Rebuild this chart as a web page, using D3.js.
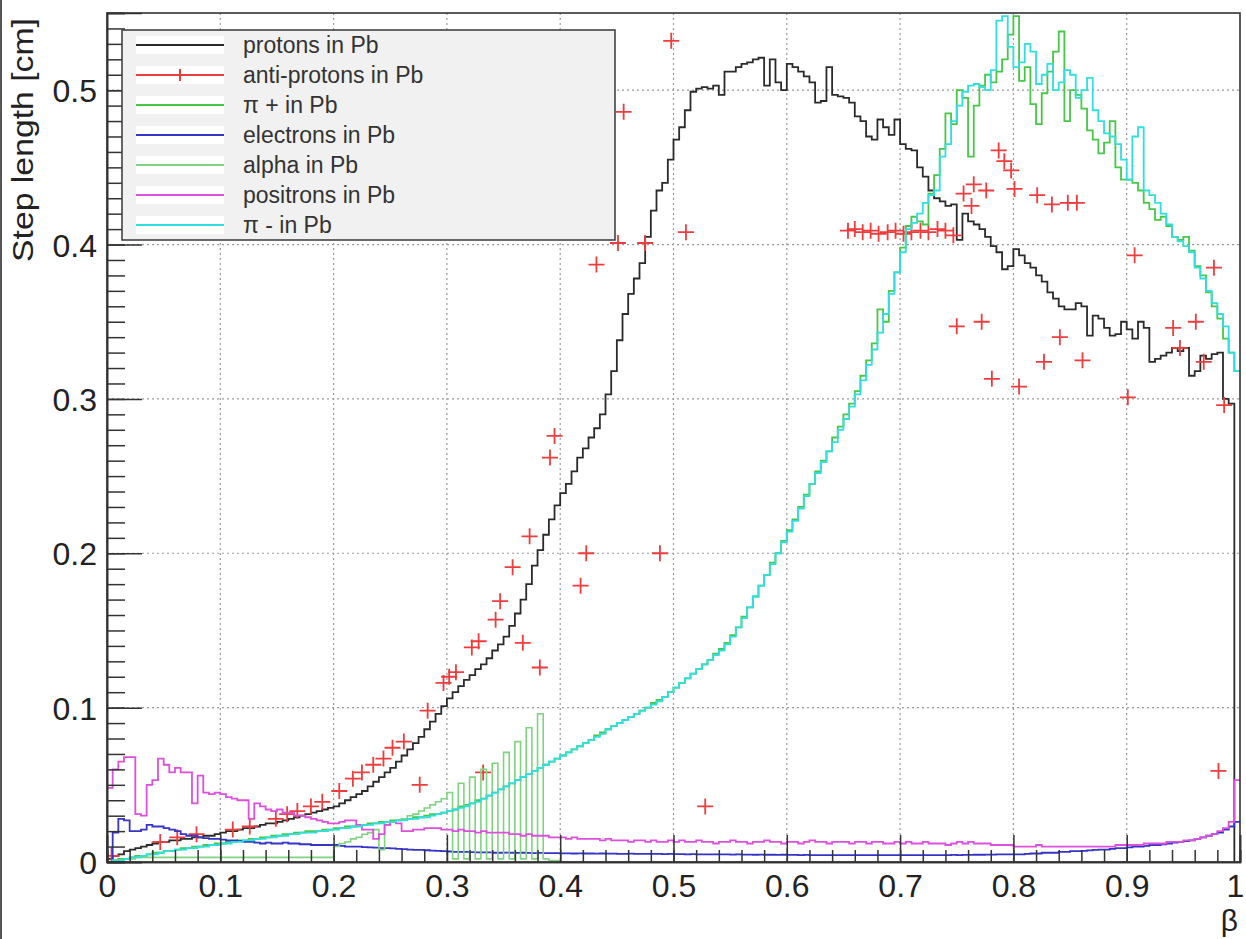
<!DOCTYPE html>
<html>
<head>
<meta charset="utf-8">
<script src="https://cdn.jsdelivr.net/npm/d3@7"></script>
<style>
  html, body { margin: 0; padding: 0; background: #fff; }
  svg { display: block; font-family: "Liberation Sans", Arial, Helvetica, sans-serif; }
</style>
</head>
<body>
<svg id="chart" width="1246" height="939"></svg>
<script>
// Step length vs beta, 200 bins of 0.005 in beta.
const BIN_WIDTH = 0.005;

const PROTONS = [
  0.002, 0.004, 0.005, 0.007, 0.008, 0.009, 0.010, 0.011, 0.012, 0.013,
  0.013, 0.014, 0.014, 0.015, 0.015, 0.016, 0.016, 0.017, 0.017, 0.018,
  0.019, 0.020, 0.020, 0.021, 0.022, 0.022, 0.023, 0.024, 0.025, 0.025,
  0.026, 0.027, 0.028, 0.029, 0.030, 0.031, 0.032, 0.033, 0.034, 0.035,
  0.036, 0.038, 0.040, 0.042, 0.044, 0.046, 0.049, 0.052, 0.055, 0.058,
  0.061, 0.065, 0.069, 0.073, 0.077, 0.081, 0.086, 0.091, 0.096, 0.101,
  0.106, 0.110, 0.114, 0.118, 0.121, 0.125, 0.128, 0.132, 0.137, 0.141,
  0.146, 0.153, 0.161, 0.170, 0.180, 0.192, 0.202, 0.212, 0.222, 0.231,
  0.239, 0.245, 0.253, 0.262, 0.268, 0.275, 0.281, 0.290, 0.303, 0.318,
  0.338, 0.355, 0.368, 0.378, 0.388, 0.405, 0.422, 0.435, 0.440, 0.455,
  0.468, 0.476, 0.487, 0.499, 0.501, 0.502, 0.501, 0.503, 0.497, 0.512,
  0.512, 0.515, 0.517, 0.518, 0.520, 0.521, 0.503, 0.520, 0.505, 0.500,
  0.517, 0.515, 0.512, 0.509, 0.505, 0.492, 0.493, 0.515, 0.497, 0.496,
  0.495, 0.492, 0.483, 0.480, 0.470, 0.468, 0.481, 0.476, 0.471, 0.481,
  0.465, 0.462, 0.461, 0.450, 0.444, 0.435, 0.430, 0.428, 0.425, 0.426,
  0.403, 0.420, 0.415, 0.413, 0.410, 0.405, 0.399, 0.395, 0.384, 0.386,
  0.397, 0.393, 0.388, 0.385, 0.380, 0.376, 0.369, 0.365, 0.360, 0.358,
  0.358, 0.362, 0.360, 0.341, 0.354, 0.352, 0.346, 0.341, 0.342, 0.350,
  0.345, 0.339, 0.350, 0.346, 0.324, 0.326, 0.328, 0.330, 0.333, 0.331,
  0.333, 0.315, 0.318, 0.328, 0.326, 0.329, 0.330, 0.300, 0.297, 0.000
];

const PI_PLUS = [
  0.000, 0.001, 0.002, 0.002, 0.003, 0.004, 0.004, 0.005, 0.006, 0.006,
  0.007, 0.007, 0.008, 0.009, 0.009, 0.010, 0.010, 0.011, 0.011, 0.012,
  0.012, 0.013, 0.013, 0.014, 0.014, 0.015, 0.015, 0.016, 0.016, 0.017,
  0.017, 0.018, 0.018, 0.019, 0.019, 0.020, 0.020, 0.020, 0.021, 0.021,
  0.022, 0.022, 0.023, 0.023, 0.024, 0.024, 0.025, 0.025, 0.026, 0.026,
  0.027, 0.027, 0.028, 0.028, 0.029, 0.029, 0.030, 0.031, 0.031, 0.032,
  0.033, 0.034, 0.036, 0.037, 0.038, 0.040, 0.041, 0.043, 0.045, 0.047,
  0.049, 0.051, 0.053, 0.055, 0.057, 0.059, 0.061, 0.063, 0.065, 0.067,
  0.069, 0.071, 0.073, 0.075, 0.077, 0.079, 0.082, 0.084, 0.086, 0.088,
  0.090, 0.092, 0.094, 0.096, 0.098, 0.100, 0.103, 0.105, 0.107, 0.110,
  0.113, 0.116, 0.119, 0.122, 0.125, 0.128, 0.131, 0.135, 0.138, 0.142,
  0.147, 0.152, 0.159, 0.165, 0.172, 0.179, 0.186, 0.194, 0.200, 0.208,
  0.215, 0.222, 0.230, 0.238, 0.245, 0.253, 0.260, 0.266, 0.275, 0.282,
  0.290, 0.297, 0.305, 0.315, 0.325, 0.336, 0.358, 0.350, 0.370, 0.382,
  0.398, 0.412, 0.418, 0.415, 0.413, 0.433, 0.445, 0.462, 0.485, 0.478,
  0.500, 0.495, 0.457, 0.490, 0.503, 0.510, 0.505, 0.512, 0.520, 0.536,
  0.548, 0.506, 0.515, 0.491, 0.478, 0.498, 0.512, 0.525, 0.538, 0.480,
  0.500, 0.497, 0.488, 0.474, 0.468, 0.459, 0.466, 0.480, 0.450, 0.442,
  0.442, 0.440, 0.435, 0.427, 0.423, 0.416, 0.418, 0.412, 0.405, 0.403,
  0.405, 0.396, 0.386, 0.380, 0.369, 0.360, 0.352, 0.339, 0.330, 0.318
];

const PI_MINUS = [
  0.000, 0.001, 0.001, 0.002, 0.003, 0.003, 0.004, 0.005, 0.005, 0.006,
  0.007, 0.007, 0.008, 0.008, 0.009, 0.009, 0.010, 0.010, 0.011, 0.011,
  0.012, 0.012, 0.013, 0.013, 0.014, 0.014, 0.015, 0.015, 0.016, 0.016,
  0.017, 0.017, 0.018, 0.018, 0.019, 0.019, 0.019, 0.020, 0.020, 0.021,
  0.021, 0.022, 0.022, 0.023, 0.023, 0.024, 0.024, 0.025, 0.025, 0.026,
  0.026, 0.027, 0.027, 0.028, 0.028, 0.029, 0.029, 0.030, 0.031, 0.032,
  0.033, 0.034, 0.035, 0.036, 0.038, 0.039, 0.041, 0.043, 0.045, 0.047,
  0.049, 0.051, 0.053, 0.055, 0.057, 0.059, 0.061, 0.063, 0.065, 0.067,
  0.069, 0.071, 0.073, 0.075, 0.077, 0.079, 0.081, 0.083, 0.086, 0.088,
  0.090, 0.092, 0.094, 0.096, 0.098, 0.100, 0.102, 0.104, 0.107, 0.110,
  0.113, 0.116, 0.119, 0.122, 0.125, 0.128, 0.131, 0.134, 0.137, 0.141,
  0.146, 0.152, 0.158, 0.165, 0.172, 0.179, 0.186, 0.193, 0.200, 0.207,
  0.214, 0.221, 0.229, 0.237, 0.245, 0.252, 0.259, 0.266, 0.272, 0.280,
  0.287, 0.295, 0.303, 0.312, 0.322, 0.332, 0.343, 0.355, 0.368, 0.382,
  0.395, 0.410, 0.414, 0.420, 0.427, 0.432, 0.435, 0.457, 0.465, 0.480,
  0.490, 0.499, 0.503, 0.504, 0.502, 0.500, 0.513, 0.545, 0.548, 0.528,
  0.515, 0.518, 0.530, 0.525, 0.504, 0.510, 0.517, 0.500, 0.505, 0.513,
  0.510, 0.495, 0.500, 0.508, 0.487, 0.480, 0.472, 0.470, 0.465, 0.455,
  0.442, 0.470, 0.476, 0.435, 0.432, 0.427, 0.420, 0.413, 0.405, 0.402,
  0.399, 0.395, 0.385, 0.378, 0.370, 0.362, 0.355, 0.347, 0.330, 0.318
];

const ELECTRONS = [
  0.000, 0.019, 0.028, 0.027, 0.020, 0.020, 0.021, 0.024, 0.023, 0.023,
  0.022, 0.021, 0.020, 0.018, 0.017, 0.017, 0.016, 0.0155, 0.015, 0.015,
  0.0145, 0.014, 0.014, 0.0135, 0.013, 0.013, 0.0125, 0.012, 0.0125, 0.012,
  0.012, 0.0125, 0.012, 0.012, 0.0115, 0.0115, 0.011, 0.011, 0.011, 0.011,
  0.011, 0.0105, 0.010, 0.010, 0.010, 0.0097, 0.0095, 0.0093, 0.009, 0.009,
  0.0088, 0.0085, 0.0083, 0.008, 0.0078, 0.0078, 0.0076, 0.0074, 0.0072, 0.007,
  0.0068, 0.0066, 0.0066, 0.0065, 0.0064, 0.0063, 0.0062, 0.0062, 0.006, 0.006,
  0.0061, 0.006, 0.0059, 0.006, 0.0059, 0.0058, 0.0059, 0.0058, 0.0057, 0.0057,
  0.0056, 0.0056, 0.0055, 0.0056, 0.0055, 0.0055, 0.0054, 0.0055, 0.0054, 0.0054,
  0.0053, 0.0053, 0.0054, 0.0053, 0.0052, 0.0053, 0.0052, 0.0052, 0.0051, 0.0052,
  0.0051, 0.0051, 0.005, 0.0051, 0.005, 0.005, 0.0049, 0.005, 0.0049, 0.0049,
  0.0048, 0.0049, 0.0048, 0.0048, 0.0047, 0.0048, 0.0047, 0.0047, 0.0046, 0.0047,
  0.0046, 0.0046, 0.0045, 0.0046, 0.0045, 0.0045, 0.0045, 0.0044, 0.0045, 0.0045,
  0.0044, 0.0045, 0.0044, 0.0044, 0.0045, 0.0044, 0.0044, 0.0045, 0.0044, 0.0044,
  0.0044, 0.0045, 0.0044, 0.0044, 0.0045, 0.0045, 0.0044, 0.0045, 0.0045, 0.0046,
  0.0045, 0.0046, 0.0046, 0.0047, 0.0047, 0.0048, 0.0048, 0.0049, 0.0050, 0.0050,
  0.005, 0.005, 0.0052, 0.0055, 0.0055, 0.006, 0.006, 0.006, 0.0065, 0.0065,
  0.007, 0.007, 0.0072, 0.0075, 0.0078, 0.008, 0.008, 0.0085, 0.009, 0.009,
  0.0095, 0.010, 0.010, 0.0105, 0.011, 0.011, 0.0115, 0.012, 0.0125, 0.013,
  0.0135, 0.014, 0.015, 0.016, 0.017, 0.018, 0.019, 0.021, 0.023, 0.026
];

const ALPHA = [
  0.000, 0.001, 0.001, 0.002, 0.002, 0.003, 0.003, 0.003, 0.003, 0.003,
  0.003, 0.003, 0.003, 0.003, 0.003, 0.003, 0.003, 0.003, 0.003, 0.003,
  0.003, 0.003, 0.003, 0.003, 0.003, 0.003, 0.003, 0.003, 0.003, 0.003,
  0.003, 0.003, 0.003, 0.003, 0.003, 0.003, 0.003, 0.003, 0.003, 0.003,
  0.010, 0.012, 0.013, 0.015, 0.016, 0.018, 0.019, 0.021, 0.008, 0.024,
  0.026, 0.027, 0.028, 0.030, 0.031, 0.033, 0.035, 0.037, 0.039, 0.041,
  0.045, 0.002, 0.051, 0.002, 0.055, 0.002, 0.060, 0.002, 0.064, 0.002,
  0.071, 0.002, 0.078, 0.002, 0.087, 0.002, 0.096, 0.002, 0.001, 0.001,
  0.000, 0.000, 0.000, 0.000, 0.000, 0.000, 0.000, 0.000, 0.000, 0.000,
  0.000, 0.000, 0.000, 0.000, 0.000, 0.000, 0.000, 0.000, 0.000, 0.000,
  0.000, 0.000, 0.000, 0.000, 0.000, 0.000, 0.000, 0.000, 0.000, 0.000,
  0.000, 0.000, 0.000, 0.000, 0.000, 0.000, 0.000, 0.000, 0.000, 0.000,
  0.000, 0.000, 0.000, 0.000, 0.000, 0.000, 0.000, 0.000, 0.000, 0.000,
  0.000, 0.000, 0.000, 0.000, 0.000, 0.000, 0.000, 0.000, 0.000, 0.000,
  0.000, 0.000, 0.000, 0.000, 0.000, 0.000, 0.000, 0.000, 0.000, 0.000,
  0.000, 0.000, 0.000, 0.000, 0.000, 0.000, 0.000, 0.000, 0.000, 0.000,
  0.000, 0.000, 0.000, 0.000, 0.000, 0.000, 0.000, 0.000, 0.000, 0.000,
  0.000, 0.000, 0.000, 0.000, 0.000, 0.000, 0.000, 0.000, 0.000, 0.000,
  0.000, 0.000, 0.000, 0.000, 0.000, 0.000, 0.000, 0.000, 0.000, 0.000,
  0.000, 0.000, 0.000, 0.000, 0.000, 0.000, 0.000, 0.000, 0.000, 0.000
];

const POSITRONS = [
  0.048, 0.060, 0.065, 0.068, 0.068, 0.031, 0.030, 0.050, 0.053, 0.067,
  0.063, 0.058, 0.061, 0.058, 0.058, 0.038, 0.056, 0.045, 0.044, 0.045,
  0.044, 0.042, 0.041, 0.040, 0.040, 0.028, 0.038, 0.036, 0.034, 0.033,
  0.034, 0.032, 0.032, 0.030, 0.030, 0.029, 0.028, 0.027, 0.026, 0.025,
  0.025, 0.026, 0.027, 0.027, 0.024, 0.021, 0.021, 0.015, 0.018, 0.024,
  0.026, 0.025, 0.020, 0.020, 0.021, 0.021, 0.022, 0.022, 0.022, 0.021,
  0.021, 0.020, 0.021, 0.020, 0.020, 0.019, 0.020, 0.019, 0.019, 0.019,
  0.019, 0.018, 0.018, 0.017, 0.018, 0.017, 0.017, 0.017, 0.016, 0.016,
  0.016, 0.015, 0.016, 0.015, 0.015, 0.015, 0.015, 0.014, 0.015, 0.014,
  0.014, 0.014, 0.013, 0.014, 0.014, 0.013, 0.014, 0.013, 0.013, 0.014,
  0.013, 0.014, 0.013, 0.013, 0.014, 0.013, 0.013, 0.012, 0.013, 0.013,
  0.014, 0.013, 0.013, 0.012, 0.013, 0.013, 0.014, 0.013, 0.013, 0.012,
  0.013, 0.013, 0.012, 0.013, 0.014, 0.013, 0.013, 0.012, 0.013, 0.013,
  0.013, 0.012, 0.013, 0.013, 0.012, 0.013, 0.013, 0.012, 0.012, 0.013,
  0.012, 0.013, 0.012, 0.012, 0.013, 0.012, 0.012, 0.012, 0.011, 0.012,
  0.013, 0.012, 0.013, 0.012, 0.012, 0.012, 0.011, 0.011, 0.011, 0.011,
  0.010, 0.010, 0.010, 0.010, 0.011, 0.010, 0.010, 0.010, 0.010, 0.010,
  0.010, 0.010, 0.010, 0.010, 0.010, 0.010, 0.010, 0.010, 0.011, 0.011,
  0.011, 0.011, 0.011, 0.012, 0.012, 0.012, 0.012, 0.013, 0.013, 0.013,
  0.014, 0.014, 0.015, 0.016, 0.017, 0.018, 0.020, 0.022, 0.026, 0.053
];

// anti-protons are drawn as markers
const ANTI_BETA = [
  0.004, 0.047, 0.062, 0.079, 0.111, 0.126, 0.149, 0.159, 0.168, 0.180,
  0.190, 0.205, 0.217, 0.225, 0.235, 0.244, 0.252, 0.262, 0.276, 0.283,
  0.297, 0.302, 0.308, 0.322, 0.328, 0.332, 0.343, 0.347, 0.358, 0.367,
  0.373, 0.382, 0.391, 0.395, 0.418, 0.423, 0.432, 0.451, 0.456, 0.475,
  0.488, 0.498, 0.511, 0.528,
  0.654, 0.660, 0.667, 0.674, 0.681, 0.689, 0.696, 0.703, 0.710, 0.718,
  0.725, 0.733, 0.740, 0.747,
  0.750, 0.756, 0.763, 0.765, 0.772, 0.776, 0.781, 0.787, 0.792, 0.798,
  0.801, 0.805, 0.821, 0.827, 0.834, 0.841, 0.848, 0.856, 0.861, 0.901,
  0.907, 0.941, 0.947, 0.961, 0.968, 0.977, 0.981, 0.986
];
const ANTI_STEP = [
  0.004, 0.013, 0.016, 0.018, 0.021, 0.023, 0.028, 0.031, 0.033, 0.036,
  0.039, 0.046, 0.054, 0.058, 0.063, 0.067, 0.074, 0.078, 0.050, 0.098,
  0.116, 0.120, 0.123, 0.139, 0.143, 0.058, 0.157, 0.169, 0.191, 0.142,
  0.211, 0.126, 0.262, 0.276, 0.179, 0.200, 0.387, 0.401, 0.486, 0.401,
  0.200, 0.532, 0.408, 0.036,
  0.409, 0.410, 0.408, 0.409, 0.407, 0.408, 0.409, 0.407, 0.408, 0.409,
  0.408, 0.410, 0.409, 0.406,
  0.347, 0.433, 0.425, 0.439, 0.350, 0.435, 0.313, 0.461, 0.454, 0.448,
  0.436, 0.308, 0.432, 0.324, 0.426, 0.340, 0.427, 0.427, 0.325, 0.301,
  0.393, 0.346, 0.333, 0.350, 0.324, 0.385, 0.059, 0.296
];

const X_TICKS = [0, 0.1, 0.2, 0.3, 0.4, 0.5, 0.6, 0.7, 0.8, 0.9, 1];
const X_LABELS = ["0", "0.1", "0.2", "0.3", "0.4", "0.5", "0.6", "0.7", "0.8", "0.9", "1"];
const Y_TICKS = [0, 0.1, 0.2, 0.3, 0.4, 0.5];
const Y_LABELS = ["0", "0.1", "0.2", "0.3", "0.4", "0.5"];

const LEGEND_LABELS = [
  "protons in Pb", "anti-protons in Pb", "\u03c0 + in Pb", "electrons in Pb",
  "alpha in Pb", "positrons in Pb", "\u03c0 - in Pb"
];

const COLORS = {
  protons: "#2a2a2a",
  anti: "#ef3b3b",
  piPlus: "#45c845",
  electrons: "#3434c8",
  alpha: "#7fd47f",
  positrons: "#dd4fdd",
  piMinus: "#2fdede"
};

const svg = d3.select("#chart");
const W = 1246, H = 939;
const frame = { left: 107, right: 1240, top: 13, bottom: 862 };

const x = d3.scaleLinear().domain([0, 1]).range([frame.left, frame.right]);
const y = d3.scaleLinear().domain([0, 0.55]).range([frame.bottom, frame.top]);

svg.append("rect").attr("width", W).attr("height", H).attr("fill", "#fff");
// thin window edge on the left of the picture
svg.append("line").attr("x1", 1).attr("x2", 1).attr("y1", 0).attr("y2", H)
  .attr("stroke", "#555").attr("stroke-width", 2);

svg.append("defs").append("clipPath").attr("id", "plotClip")
  .append("rect")
  .attr("x", frame.left).attr("y", frame.top)
  .attr("width", frame.right - frame.left).attr("height", frame.bottom - frame.top);

// grid
const grid = svg.append("g").attr("stroke", "#9a9a9a").attr("stroke-width", 1.2)
  .attr("stroke-dasharray", "2,3");
X_TICKS.slice(1, -1).forEach(t => {
  grid.append("line").attr("x1", x(t)).attr("x2", x(t))
    .attr("y1", frame.top).attr("y2", frame.bottom);
});
Y_TICKS.slice(1).forEach(t => {
  grid.append("line").attr("x1", frame.left).attr("x2", frame.right)
    .attr("y1", y(t)).attr("y2", y(t));
});

// histograms
const plot = svg.append("g").attr("clip-path", "url(#plotClip)");
const stepLine = d3.line()
  .x(d => x(d[0]))
  .y(d => y(d[1]))
  .curve(d3.curveStepAfter);

function drawHist(values, color, width) {
  const pts = values.map((v, i) => [i * BIN_WIDTH, v]);
  pts.push([values.length * BIN_WIDTH, values[values.length - 1]]);
  plot.append("path")
    .attr("d", stepLine(pts))
    .attr("fill", "none")
    .attr("stroke", color)
    .attr("stroke-width", width)
    .attr("stroke-linejoin", "miter");
}

drawHist(PROTONS, COLORS.protons, 1.8);

// anti-protons: "+" markers
const crossPath = (cx, cy, r) => `M${cx - r},${cy}H${cx + r}M${cx},${cy - r}V${cy + r}`;
plot.append("g")
  .selectAll("path")
  .data(ANTI_BETA.map((b, i) => [b, ANTI_STEP[i]]))
  .join("path")
  .attr("d", d => crossPath(x(d[0]), y(d[1]), 8))
  .attr("stroke", COLORS.anti)
  .attr("stroke-width", 1.8)
  .attr("fill", "none");

drawHist(PI_PLUS, COLORS.piPlus, 1.8);
drawHist(ELECTRONS, COLORS.electrons, 1.8);
drawHist(ALPHA, COLORS.alpha, 1.6);
drawHist(POSITRONS, COLORS.positrons, 1.8);
drawHist(PI_MINUS, COLORS.piMinus, 1.8);

// frame
svg.append("rect")
  .attr("x", frame.left).attr("y", frame.top)
  .attr("width", frame.right - frame.left).attr("height", frame.bottom - frame.top)
  .attr("fill", "none").attr("stroke", "#333").attr("stroke-width", 1.6);

// axes, ROOT style: ticks inside the frame
const tickFont = 32;
const xMinor = svg.append("g").attr("transform", `translate(0,${frame.bottom})`)
  .call(d3.axisBottom(x).ticks(50).tickSize(-12).tickFormat(""));
const xMajor = svg.append("g").attr("transform", `translate(0,${frame.bottom})`)
  .call(d3.axisBottom(x).tickValues(X_TICKS).tickSize(-27).tickPadding(12)
    .tickFormat((d, i) => X_LABELS[i]));
const yMinor = svg.append("g").attr("transform", `translate(${frame.left},0)`)
  .call(d3.axisLeft(y).ticks(55).tickSize(-18).tickFormat(""));
const yMajor = svg.append("g").attr("transform", `translate(${frame.left},0)`)
  .call(d3.axisLeft(y).tickValues(Y_TICKS).tickSize(-35).tickPadding(10)
    .tickFormat((d, i) => Y_LABELS[i]));

[xMinor, xMajor, yMinor, yMajor].forEach(g => {
  g.select(".domain").attr("stroke", "#333").attr("stroke-width", 1.6);
  g.selectAll(".tick line").attr("stroke", "#333").attr("stroke-width", 1.5);
  g.selectAll(".tick text")
    .attr("font-family", "'Liberation Sans', Arial, Helvetica, sans-serif")
    .attr("font-size", tickFont)
    .attr("fill", "#222");
});
yMajor.selectAll(".tick text").attr("dy", "0.36em");
// keep the last x label inside the picture
xMajor.selectAll(".tick text").filter((d, i) => i === X_TICKS.length - 1)
  .attr("dx", -5);

// axis titles
svg.append("text")
  .attr("transform", `translate(33,${frame.top + 5}) rotate(-90)`)
  .attr("text-anchor", "end")
  .attr("font-size", 30)
  .attr("textLength", 244)
  .attr("lengthAdjust", "spacingAndGlyphs")
  .attr("fill", "#222")
  .text("Step length [cm]");

svg.append("text")
  .attr("x", frame.right - 2)
  .attr("y", 931)
  .attr("text-anchor", "end")
  .attr("font-size", 30)
  .attr("fill", "#222")
  .text("\u03b2");

// legend
const legend = { left: 122, top: 30, right: 615, bottom: 240 };
const rowH = (legend.bottom - legend.top) / LEGEND_LABELS.length;
const legendColors = [COLORS.protons, COLORS.anti, COLORS.piPlus, COLORS.electrons,
  COLORS.alpha, COLORS.positrons, COLORS.piMinus];

const lg = svg.append("g");
lg.append("rect")
  .attr("x", legend.left).attr("y", legend.top)
  .attr("width", legend.right - legend.left).attr("height", legend.bottom - legend.top)
  .attr("fill", "#f1f1f1").attr("stroke", "#444").attr("stroke-width", 1.6);

LEGEND_LABELS.forEach((label, i) => {
  const cy = legend.top + rowH * (i + 0.5);
  lg.append("rect")
    .attr("x", 136).attr("y", cy - 9).attr("width", 88).attr("height", 18)
    .attr("fill", "#fff");
  lg.append("line")
    .attr("x1", 136).attr("x2", 224).attr("y1", cy).attr("y2", cy)
    .attr("stroke", legendColors[i]).attr("stroke-width", 1.8);
  if (i === 1) {
    lg.append("path").attr("d", crossPath(180, cy, 6))
      .attr("stroke", COLORS.anti).attr("stroke-width", 2).attr("fill", "none");
  }
  lg.append("text")
    .attr("x", 243).attr("y", cy + 8)
    .attr("font-size", 23)
    .attr("fill", "#333")
    .text(label);
});
</script>
</body>
</html>
